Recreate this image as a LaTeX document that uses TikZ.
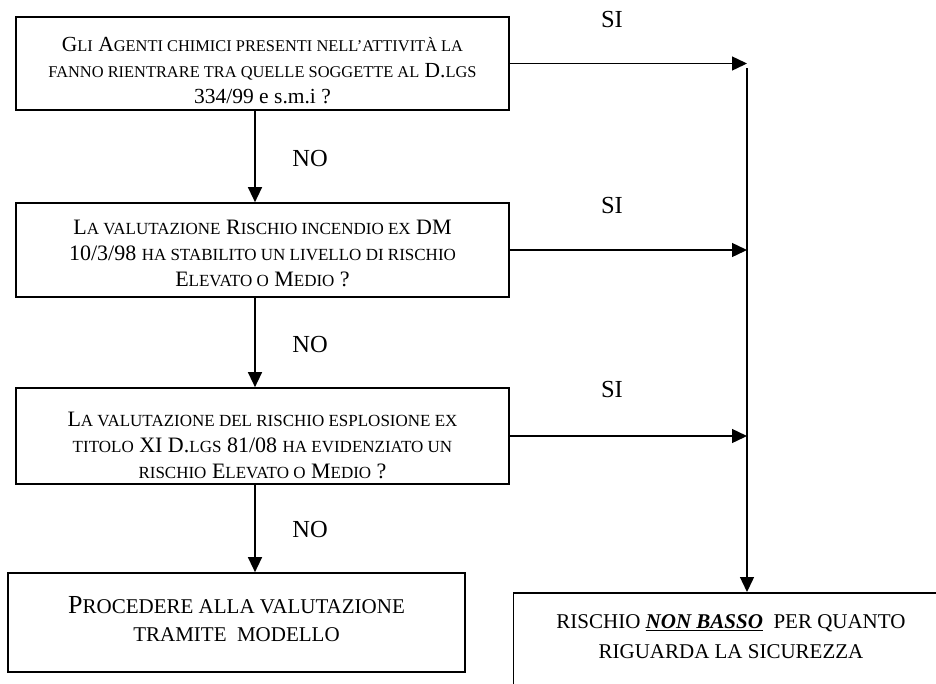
\documentclass[tikz,border=0pt]{standalone}
\usepackage{fontspec}
\setmainfont{Liberation Serif}
\usetikzlibrary{arrows.meta}
% reduced capitals used as small caps
\newcommand\lca[1]{{\fontsize{16.4}{26}\selectfont #1}}
\newcommand\lc[1]{{\fontsize{17}{26}\selectfont #1}}
\newcommand\lcb[1]{{\fontsize{21}{28}\selectfont #1}}
\begin{document}
\begin{tikzpicture}[x=1pt,y=-1pt,
  box/.style={draw, line width=1.7pt, inner sep=0pt},
  txt/.style={align=center, inner sep=0pt, font=\fontsize{22}{26}\selectfont},
  lbl/.style={font=\fontsize{24.5}{26}\selectfont, inner sep=0pt},
  arr/.style={line width=1.4pt, -{Triangle[length=15pt,width=14pt]}}]
\useasboundingbox (0,0) rectangle (936,683);
\clip (0,0) rectangle (936,683);

\coordinate (spine) at (255,0);
\coordinate (rail) at (747,0);
\coordinate (railtop) at (747,68);

% question boxes
\node[box, minimum width=493pt, minimum height=93pt] (q1) at (262.5,63.5) {};
\node[txt, font=\fontsize{21.5}{26}\selectfont] (q1t) at (262.5,70.5)
  {G\lca{LI} A\lca{GENTI CHIMICI PRESENTI NELL’ATTIVITÀ LA}\\
   \lca{FANNO RIENTRARE TRA QUELLE SOGGETTE AL} D.\lca{LGS}\\
   334/99 e s.m.i ?};
\node[box, minimum width=493pt, minimum height=94pt] (q2) at (262.5,250) {};
\node[txt] (q2t) at (262.5,253)
  {L\lc{A VALUTAZIONE} R\lc{ISCHIO INCENDIO EX} DM\\
   10/3/98 \lc{HA STABILITO UN LIVELLO DI RISCHIO}\\
   E\lc{LEVATO O} M\lc{EDIO} ?};
\node[box, minimum width=493pt, minimum height=96pt] (q3) at (262.5,436) {};
\node[txt] (q3t) at (262.5,445)
  {L\lc{A VALUTAZIONE DEL RISCHIO ESPLOSIONE EX}\\
   \lc{TITOLO} XI D.\lc{LGS} 81/08 \lc{HA EVIDENZIATO UN}\\
   \lc{RISCHIO} E\lc{LEVATO O} M\lc{EDIO} ?};

% outcome boxes
\node[box, minimum width=457pt, minimum height=99pt] (proc) at (236.5,622.5) {};
\node[txt, font=\fontsize{26}{28}\selectfont] (proct) at (236.5,619)
  {P\lcb{ROCEDERE ALLA VALUTAZIONE}\\
   \lcb{TRAMITE\ \ MODELLO}};
\node[box, minimum width=438pt, minimum height=94pt, anchor=north west] (risk) at (512.5,592) {};
\node[txt, font=\fontsize{21}{30}\selectfont] (riskt) at (731,637)
  {RISCHIO \underline{\textbf{\textit{NON BASSO}}}\ \ PER QUANTO\\
   RIGUARDA LA SICUREZZA};

% NO branches
\draw[arr] (q1.south -| spine) -- (q2.north -| spine);
\draw[arr] (q2.south -| spine) -- (q3.north -| spine);
\draw[arr] (q3.south -| spine) -- (proc.north -| spine);
\node[lbl] (no1) at (310,159) {NO};
\node[lbl] (no2) at (310,345) {NO};
\node[lbl] (no3) at (310,529) {NO};

% SI branches
\draw[arr] (q1.east) -- (q1.east -| rail);
\draw[arr] (q2.east) -- (q2.east -| rail);
\draw[arr] (q3.east) -- (q3.east -| rail);
\draw[arr] (railtop) -- (risk.north -| rail);
\node[lbl] (si1) at (612,20) {SI};
\node[lbl] (si2) at (612,206) {SI};
\node[lbl] (si3) at (612,390) {SI};
\end{tikzpicture}
\end{document}
